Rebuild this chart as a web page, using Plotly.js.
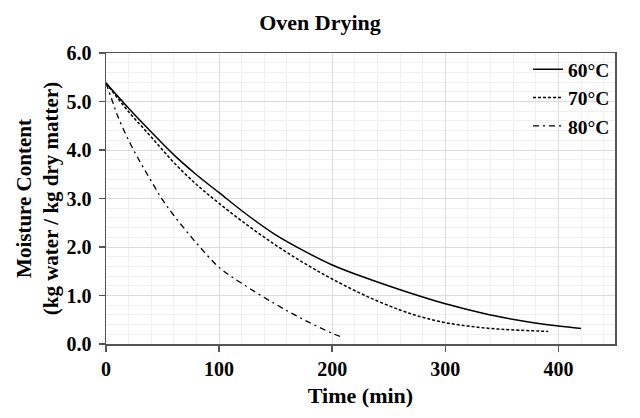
<!DOCTYPE html>
<html>
<head>
<meta charset="utf-8">
<script src="https://cdn.plot.ly/plotly-3.0.1.min.js"></script>
<style>html,body{margin:0;padding:0;background:#fff;}#chart{width:640px;height:418px;}</style>
</head>
<body>
<div id="chart"></div>
<script>
const t60 = [0,20,40,60,80,100,125,150,175,200,230,260,300,325,350,375,400,420];
const v60 = [5.38,4.86,4.37,3.90,3.49,3.12,2.66,2.25,1.92,1.63,1.36,1.12,0.83,0.68,0.55,0.45,0.37,0.32];
const t70 = [0,20,40,60,80,100,125,150,175,200,230,260,280,300,320,340,360,391];
const v70 = [5.38,4.79,4.27,3.74,3.29,2.90,2.45,2.04,1.67,1.34,0.99,0.70,0.55,0.44,0.37,0.32,0.29,0.26];
const t80 = [0,5,10,20,30,40,50,60,80,100,120,150,175,200,210];
const v80 = [5.38,5.05,4.72,4.20,3.76,3.36,2.97,2.65,2.08,1.58,1.25,0.82,0.50,0.22,0.13];
const seriesNames = ["60°C","70°C","80°C"];
const xTicks = [0,100,200,300,400];
const yTicks = [0,1,2,3,4,5,6];

const FONT = "'Liberation Serif','Times New Roman',serif";
const traces = [
  {x:t60, y:v60, name:seriesNames[0], mode:'lines', line:{color:'#000', width:1.5, shape:'spline', smoothing:1}},
  {x:t70, y:v70, name:seriesNames[1], mode:'lines', line:{color:'#000', width:1.5, dash:'3px,2px', shape:'spline', smoothing:1}},
  {x:t80, y:v80, name:seriesNames[2], mode:'lines', line:{color:'#000', width:1.3, dash:'6px,4px,2px,4px', shape:'spline', smoothing:1}}
];
const layout = {
  width:640, height:418,
  margin:{l:106, r:25, t:53, b:74},
  paper_bgcolor:'#fff', plot_bgcolor:'#fff',
  font:{family:FONT, color:'#000', size:20},
  title:{text:'<b>Oven Drying</b>', x:0.5, xanchor:'center', y:0.947, yanchor:'middle', font:{family:FONT, size:22, color:'#000'}},
  showlegend:true,
  legend:{x:1, xanchor:'right', y:1.01, yanchor:'top', bgcolor:'rgba(0,0,0,0)', borderwidth:0,
          font:{family:FONT, size:19.5, color:'#000', weight:'bold'}},
  xaxis:{
    range:[0,450], tickvals:xTicks, ticktext:xTicks.map(v=>'<b>'+v+'</b>'),
    ticks:'outside', ticklen:6, tickwidth:1.5, tickcolor:'#555',
    showline:true, linecolor:'#555', linewidth:1.5, mirror:true,
    showgrid:true, gridcolor:'#dcdcdc', gridwidth:1,
    minor:{dtick:20, showgrid:true, gridcolor:'#f0f0f0', gridwidth:1, ticks:''},
    zeroline:false,
    tickfont:{family:FONT, size:20, color:'#000'},
    title:{text:'<b>Time (min)</b>', standoff:9, font:{family:FONT, size:22, color:'#000'}}
  },
  yaxis:{
    range:[0,6], tickvals:yTicks, ticktext:yTicks.map(v=>'<b>'+v.toFixed(1)+'</b>'),
    ticks:'outside', ticklen:6, tickwidth:1.5, tickcolor:'#555', ticklabelstandoff:3,
    showline:true, linecolor:'#555', linewidth:1.5, mirror:true,
    showgrid:true, gridcolor:'#dcdcdc', gridwidth:1,
    minor:{dtick:0.2, showgrid:true, gridcolor:'#f0f0f0', gridwidth:1, ticks:''},
    zeroline:false,
    tickfont:{family:FONT, size:20, color:'#000'},
    title:{text:'<b>Moisture Content<br>(kg water / kg dry matter)</b>', standoff:2, font:{family:FONT, size:21, color:'#000'}}
  }
};
Plotly.newPlot('chart', traces, layout, {displayModeBar:false, staticPlot:true});
</script>
</body>
</html>
